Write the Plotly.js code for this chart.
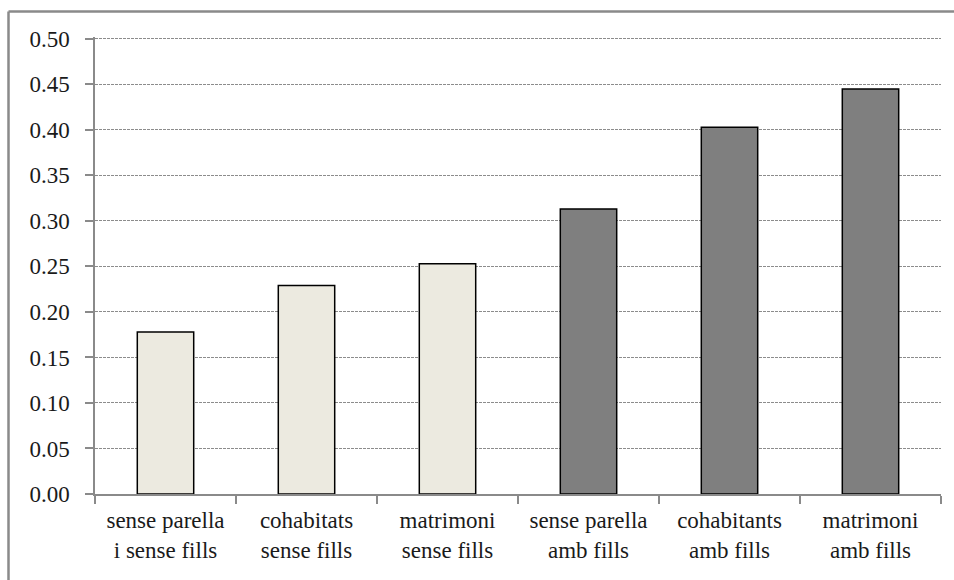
<!DOCTYPE html>
<html>
<head>
<meta charset="utf-8">
<script src="https://cdn.plot.ly/plotly-3.0.1.min.js"></script>
<style>html,body{margin:0;padding:0;background:#fff;}#chart{width:954px;height:580px;}</style>
</head>
<body>
<div id="chart"></div>
<script>
const categories = [
  "sense parella<br>i sense fills",
  "cohabitats<br>sense fills",
  "matrimoni<br>sense fills",
  "sense parella<br>amb fills",
  "cohabitants<br>amb fills",
  "matrimoni<br>amb fills"
];
const values = [0.178, 0.229, 0.253, 0.313, 0.403, 0.445];
const barColors = ["#ECEAE0", "#ECEAE0", "#ECEAE0", "#7F7F7F", "#7F7F7F", "#7F7F7F"];
const yTicks = [0, 0.05, 0.10, 0.15, 0.20, 0.25, 0.30, 0.35, 0.40, 0.45, 0.50];

const trace = {
  type: "bar",
  x: categories,
  y: values,
  marker: {color: barColors, line: {color: "#000", width: 1.5}},
  hoverinfo: "none"
};

const L = 95, R = 13, T = 37, B = 86, W = 954, H = 580;
const pw = W - L - R, ph = H - T - B;

const layout = {
  width: W, height: H,
  margin: {l: L, r: R, t: T, b: B, pad: 0},
  paper_bgcolor: "#fff", plot_bgcolor: "#fff",
  showlegend: false,
  bargap: 0.6,
  font: {family: "Liberation Serif", size: 23, color: "#1a1a1a"},
  xaxis: {
    type: "category",
    showline: true, linecolor: "#8a8a8a", linewidth: 1.5,
    ticks: "outside", tickson: "boundaries", ticklen: 8, tickcolor: "#8a8a8a", tickwidth: 1.5,
    showgrid: false, zeroline: false,
    tickfont: {family: "Liberation Serif", size: 23, color: "#1a1a1a"},
    ticklabelstandoff: 5
  },
  yaxis: {
    range: [0, 0.502],
    tickvals: yTicks,
    ticktext: yTicks.map(v => v.toFixed(2)),
    showline: true, linecolor: "#8a8a8a", linewidth: 1.5,
    ticks: "outside", ticklen: 8, tickcolor: "#8a8a8a", tickwidth: 1.5,
    showgrid: true, gridcolor: "#8c8c8c", gridwidth: 1, griddash: "3px,1px",
    zeroline: false,
    tickfont: {family: "Liberation Serif", size: 23, color: "#1a1a1a"},
    ticklabelstandoff: 11
  },
  shapes: [
    {type: "line", xref: "paper", yref: "paper",
     x0: (8.5 - L) / pw, x1: (W + 5 - L) / pw,
     y0: (H - B - 11.5) / ph, y1: (H - B - 11.5) / ph,
     line: {color: "#8a8a8a", width: 2.5}},
    {type: "line", xref: "paper", yref: "paper",
     x0: (8.5 - L) / pw, x1: (8.5 - L) / pw,
     y0: (H - B - 11.5) / ph, y1: (-B - 5) / ph,
     line: {color: "#8a8a8a", width: 2.5}}
  ]
};

Plotly.newPlot("chart", [trace], layout, {displayModeBar: false});
</script>
</body>
</html>
